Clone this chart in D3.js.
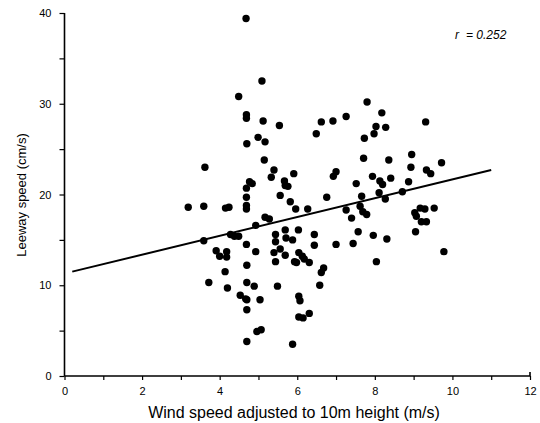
<!DOCTYPE html>
<html lang="en">
  <head>
    <meta charset="utf-8" />
    <title>Leeway speed vs wind speed</title>
    <script src="https://d3js.org/d3.v7.min.js"></script>
    <style>
      body { margin: 0; background: #fff; }
      svg text { font-family: "Liberation Sans", Arial, sans-serif; fill: #000; }
    </style>
  </head>
  <body>
    <div id="container"></div>
    <script>
      // wind speed (m/s) and leeway speed (cm/s)
      var windSpeed = [
        4.68, 5.09, 4.49, 4.69, 4.69, 5.12, 5.54, 4.70, 4.99, 5.17,
        5.15, 3.62, 5.40, 5.33, 4.77, 4.84, 4.69, 4.69, 4.69, 4.69,
        4.69, 4.70, 4.70, 4.70, 4.70, 4.70, 3.19, 3.59, 4.15, 4.24,
        3.59, 3.91, 4.00, 4.18, 4.18, 4.14, 3.72, 4.20, 4.28, 4.38,
        4.49, 4.53, 4.67, 4.89, 4.93, 4.93, 5.04, 4.96, 5.07, 5.17,
        5.28, 5.44, 5.44, 5.40, 5.44, 5.49, 5.56, 5.69, 5.56, 5.67,
        5.69, 5.76, 5.91, 5.69, 5.71, 5.82, 5.88, 5.96, 6.03, 5.93,
        5.98, 6.04, 6.13, 6.18, 6.31, 6.27, 6.44, 6.44, 6.04, 6.07,
        6.04, 6.15, 6.31, 5.88, 6.58, 6.62, 6.68, 6.49, 6.62, 6.92,
        7.26, 6.93, 7.00, 6.76, 7.00, 7.26, 7.40, 7.52, 7.44, 7.57,
        7.71, 7.73, 7.80, 7.66, 7.62, 7.69, 7.79, 7.94, 7.96, 8.04,
        7.98, 8.03, 8.18, 8.28, 8.13, 8.20, 8.11, 8.27, 8.36, 8.41,
        8.31, 8.71, 8.87, 8.93, 8.95, 9.05, 9.31, 9.33, 9.44, 9.03,
        9.07, 9.17, 9.29, 9.20, 9.33, 9.53, 9.72, 9.78
      ];
      var leewaySpeed = [
        39.4, 32.5, 30.8, 28.8, 28.4, 28.1, 27.6, 25.6, 26.3, 25.8,
        23.8, 23.0, 22.7, 21.9, 21.4, 21.2, 20.7, 19.7, 18.8, 18.4,
        14.5, 12.2, 10.3, 8.4, 7.3, 3.8, 18.6, 18.7, 18.5, 18.6,
        14.9, 13.8, 13.2, 13.7, 13.1, 11.5, 10.3, 9.7, 15.6, 15.4,
        15.4, 8.9, 8.5, 9.9, 16.6, 13.7, 8.4, 4.9, 5.1, 17.5,
        17.3, 15.6, 14.8, 13.6, 12.6, 9.9, 14.0, 13.3, 19.9, 21.5,
        21.0, 20.9, 22.3, 16.1, 15.2, 19.2, 15.0, 18.4, 16.1, 12.6,
        12.5, 13.6, 13.2, 12.9, 12.5, 18.4, 15.6, 14.4, 8.8, 8.3,
        6.5, 6.4, 6.9, 3.5, 10.0, 11.4, 11.9, 26.7, 28.0, 28.1,
        28.6, 22.0, 22.5, 19.7, 14.5, 18.3, 17.4, 21.2, 14.6, 15.9,
        24.0, 26.2, 30.2, 19.8, 18.7, 18.1, 17.8, 22.0, 15.5, 12.6,
        26.7, 27.5, 29.0, 27.4, 21.5, 21.1, 20.2, 19.5, 23.8, 21.8,
        15.1, 20.3, 21.4, 23.0, 24.4, 15.9, 28.0, 22.7, 22.3, 18.0,
        17.6, 18.5, 18.4, 17.0, 17.0, 18.5, 23.5, 13.7
      ];

      // fitted regression line, drawn between its two end points
      var fitX = [0.2, 11.0];
      var fitY = [11.5, 22.7];
      var rLabel = "= 0.252";

      var xTicks = [0, 1, 2, 3, 4, 5, 6, 7, 8, 9, 10, 11, 12];
      var xTickLabels = ["0", "2", "4", "6", "8", "10", "12"];
      var yTicks = [0, 5, 10, 15, 20, 25, 30, 35, 40];
      var yTickLabels = ["0", "10", "20", "30", "40"];

      var width = 540;
      var height = 423;

      var svg = d3
        .select("#container")
        .append("svg")
        .attr("width", width)
        .attr("height", height);

      var x = d3.scaleLinear().domain([0, 12]).range([64.5, 530]);
      var y = d3.scaleLinear().domain([0, 40]).range([376, 13]);

      // x axis: ticks every unit, labels on even values
      var xAxis = svg
        .append("g")
        .attr("transform", "translate(0," + y(0) + ")")
        .call(
          d3.axisBottom(x)
            .tickValues(xTicks)
            .tickSize(4)
            .tickFormat(function (d) {
              return xTickLabels.indexOf(String(d)) >= 0 ? String(d) : "";
            })
        );
      xAxis.select(".domain").attr("stroke-width", 1.6).attr("d", "M" + x(0) + ",0H" + x(12) + "V-4");
      xAxis.selectAll(".tick line").attr("stroke-width", 1.2);
      xAxis.selectAll(".tick text").attr("font-size", 11).attr("dy", "1.05em");

      // y axis: ticks every 5, labels every 10
      var yAxis = svg
        .append("g")
        .attr("transform", "translate(" + x(0) + ",0)")
        .call(
          d3.axisLeft(y)
            .tickValues(yTicks)
            .tickSize(5)
            .tickPadding(8)
            .tickFormat(function (d) {
              return yTickLabels.indexOf(String(d)) >= 0 ? String(d) : "";
            })
        );
      yAxis.select(".domain").attr("stroke-width", 1.6).attr("d", "M0," + y(0) + "V" + y(40));
      yAxis.selectAll(".tick line").attr("stroke-width", 1.2);
      yAxis.selectAll(".tick text").attr("font-size", 11);

      svg
        .selectAll("circle")
        .data(windSpeed)
        .enter()
        .append("circle")
        .attr("cx", function (d) { return x(d); })
        .attr("cy", function (d, i) { return y(leewaySpeed[i]); })
        .attr("r", 3.7)
        .attr("fill", "#000");

      svg
        .append("line")
        .attr("x1", x(fitX[0]))
        .attr("y1", y(fitY[0]))
        .attr("x2", x(fitX[1]))
        .attr("y2", y(fitY[1]))
        .attr("stroke", "#000")
        .attr("stroke-width", 2);

      var rText = svg
        .append("text")
        .attr("x", 455)
        .attr("y", 39)
        .attr("font-size", 12)
        .attr("font-style", "italic");
      rText.append("tspan").text("r");
      rText.append("tspan").attr("dx", 7).text(rLabel);

      svg
        .append("text")
        .attr("x", 294)
        .attr("y", 418)
        .attr("text-anchor", "middle")
        .attr("font-size", 16)
        .text("Wind speed adjusted to 10m height (m/s)");

      svg
        .append("text")
        .attr("transform", "translate(26,195) rotate(-90)")
        .attr("text-anchor", "middle")
        .attr("font-size", 13)
        .text("Leeway speed (cm/s)");
    </script>
  </body>
</html>
